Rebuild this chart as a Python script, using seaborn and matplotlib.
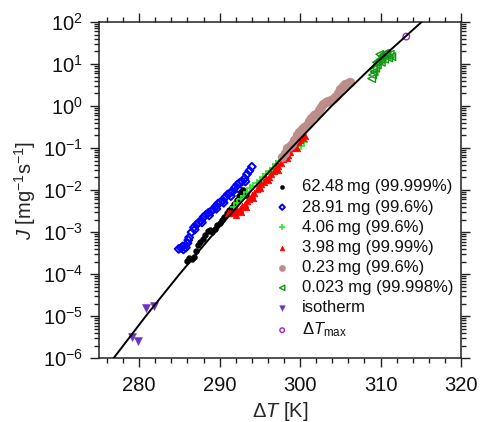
import matplotlib
matplotlib.use("Agg")

import matplotlib.pyplot as plt
import pandas as pd
import seaborn as sns
from matplotlib.ticker import LogLocator, MultipleLocator, NullFormatter


# fitted curve, read at a few points along the black line
fit_T = [276.8, 280.8, 285.0, 289.4, 294.0, 298.9, 303.9, 309.3, 315.1]
fit_J = [1e-6, 1e-5, 1e-4, 1e-3, 1e-2, 1e-1, 1.0, 10.0, 100.0]

# 62.48 mg (99.999%)
black_T = [285.9, 286.2, 286.5, 286.8, 287.0, 287.3, 287.6, 287.9, 288.2, 288.5,
           288.8, 289.1, 289.4, 289.7, 290.0, 290.3, 290.6, 290.9, 291.2, 291.5,
           291.8, 292.1, 292.4, 292.7, 292.9, 293.1, 293.3]
black_J = [2.1e-4, 2.4e-4, 2.3e-4, 2.6e-4, 3.5e-4, 5.0e-4, 6.0e-4, 7.0e-4, 8.5e-4, 1.05e-3,
           1.1e-3, 1.0e-3, 1.2e-3, 1.5e-3, 1.7e-3, 1.9e-3, 2.3e-3, 2.8e-3, 3.3e-3, 3.9e-3,
           4.6e-3, 5.8e-3, 7.2e-3, 9.0e-3, 1.0e-2, 8.5e-3, 7.5e-3]

# 28.91 mg (99.6%)
blue_T = [284.9, 285.2, 285.5, 285.8, 286.0, 286.2, 286.5, 286.8, 287.1, 287.4,
          287.7, 288.0, 288.3, 288.6, 288.9, 289.2, 289.5, 289.8, 290.1, 290.4,
          290.7, 291.0, 291.3, 291.6, 291.9, 292.2, 292.5, 292.8, 293.1, 293.4,
          293.7, 294.0,
          285.4, 286.1, 286.9, 287.8, 288.7, 289.6, 290.5, 291.4, 292.3, 293.2]
blue_J = [4.0e-4, 4.2e-4, 3.9e-4, 4.3e-4, 5.5e-4, 7.5e-4, 1.0e-3, 1.3e-3, 1.5e-3, 1.7e-3,
          1.9e-3, 2.3e-3, 2.6e-3, 2.9e-3, 3.1e-3, 3.5e-3, 4.1e-3, 4.8e-3, 5.2e-3, 5.6e-3,
          6.8e-3, 7.9e-3, 8.6e-3, 9.2e-3, 1.15e-2, 1.35e-2, 1.5e-2, 1.6e-2, 1.9e-2, 2.4e-2,
          2.9e-2, 3.6e-2,
          4.6e-4, 6.5e-4, 1.15e-3, 1.7e-3, 2.5e-3, 3.6e-3, 5.0e-3, 7.2e-3, 1.1e-2, 1.6e-2]

# 4.06 mg (99.6%)
lime_T = [291.8, 292.2, 292.6, 293.0, 293.4, 293.8, 294.2, 294.6, 295.0, 295.4,
          295.8, 296.2, 296.6, 297.0, 297.4, 297.8, 298.2, 298.6, 299.0, 299.4,
          299.8, 300.1, 300.3, 300.5]
lime_J = [4.0e-3, 4.9e-3, 6.0e-3, 7.4e-3, 9.1e-3, 1.1e-2, 1.26e-2, 1.48e-2, 1.66e-2, 2.0e-2,
          2.4e-2, 2.8e-2, 3.4e-2, 4.2e-2, 5.0e-2, 6.0e-2, 7.1e-2, 8.5e-2, 0.102, 0.12,
          0.126, 0.112, 0.28, 0.14]

# 3.98 mg (99.99%)
red_T = [291.0, 291.3, 291.6, 291.9, 292.2, 292.5, 292.8, 293.1, 293.4, 293.7,
         294.0, 294.3, 294.6, 294.9, 295.2, 295.5, 295.8, 296.1, 296.4, 296.7,
         297.0, 297.3, 297.6, 297.9, 298.2, 298.5, 298.8, 299.1, 299.4, 299.7,
         300.0, 300.3, 300.6,
         292.0, 292.6, 293.3, 294.2, 295.0, 296.0, 297.2, 298.4, 299.6]
red_J = [2.8e-3, 2.8e-3, 3.0e-3, 3.2e-3, 3.4e-3, 3.5e-3, 4.2e-3, 4.7e-3, 5.4e-3, 6.3e-3,
         7.6e-3, 8.7e-3, 1.07e-2, 1.26e-2, 1.38e-2, 1.58e-2, 1.9e-2, 2.1e-2, 2.4e-2, 2.8e-2,
         3.4e-2, 3.8e-2, 4.5e-2, 5.4e-2, 6.0e-2, 6.9e-2, 8.3e-2, 9.8e-2, 0.112, 0.138,
         0.158, 0.178, 0.19,
         2.6e-3, 3.0e-3, 4.0e-3, 6.5e-3, 1.1e-2, 1.7e-2, 3.0e-2, 5.8e-2, 0.10]

# 0.23 mg (99.6%)
brown_T = [297.8, 298.1, 298.4, 298.7, 299.0, 299.3, 299.6, 299.9, 300.2, 300.5,
           300.8, 301.1, 301.4, 301.7, 302.0, 302.3, 302.6, 302.9, 303.2, 303.5,
           303.8, 304.1, 304.4, 304.7, 305.0, 305.3, 305.6, 305.9, 306.2]
brown_J = [0.063, 0.076, 0.10, 0.112, 0.126, 0.158, 0.20, 0.24, 0.28, 0.32,
           0.355, 0.44, 0.52, 0.60, 0.66, 0.79, 0.95, 1.15, 1.26, 1.35,
           1.41, 1.48, 1.66, 2.0, 2.5, 2.95, 3.3, 3.6, 3.8]

# 0.023 mg (99.998%)
dkgreen_T = [308.9, 309.0, 309.2, 309.1, 309.4, 309.6, 309.5, 309.8, 310.0, 310.2,
             310.4, 310.6, 310.8, 311.0, 311.2, 311.4, 310.1, 310.5, 309.9]
dkgreen_J = [4.5, 5.5, 6.5, 7.5, 8.0, 9.5, 11.0, 12.0, 13.0, 15.0,
             17.0, 18.0, 16.0, 14.0, 17.0, 15.0, 11.0, 13.0, 17.0]

# isotherm measurements
iso_T = [279.06, 279.8, 280.8, 281.8]
iso_J = [3.3e-6, 2.6e-6, 1.6e-5, 1.8e-5]

# maximum supercooling
dtmax_T = [313.2]
dtmax_J = [45.0]


def series(T, J):
    return pd.DataFrame({"T": T, "J": J})


def main():
    sns.set_style("ticks")
    plt.rcParams["font.family"] = ["Liberation Sans", "DejaVu Sans"]
    plt.rcParams["mathtext.fontset"] = "custom"
    plt.rcParams["mathtext.rm"] = "Liberation Sans"
    plt.rcParams["mathtext.it"] = "Liberation Sans:italic"
    plt.rcParams["mathtext.default"] = "regular"

    fig = plt.figure(figsize=(4.82, 4.22), dpi=100)
    ax = fig.add_axes([0.2054, 0.1509, 0.7510, 0.7970])
    ax.set_yscale("log")

    sns.scatterplot(data=series(black_T, black_J), x="T", y="J", ax=ax,
                    marker="o", s=18, color="black", edgecolor="black", linewidth=0.3,
                    label="62.48\u2009mg (99.999%)", zorder=3)
    sns.scatterplot(data=series(blue_T, blue_J), x="T", y="J", ax=ax,
                    marker="D", s=16, color="#0000ff", facecolor="none",
                    edgecolor="#0000ff", linewidth=1.4,
                    label="28.91\u2009mg (99.6%)", zorder=2)
    sns.scatterplot(data=series(lime_T, lime_J), x="T", y="J", ax=ax,
                    marker="+", s=28, color="#22ee22", linewidth=1.2,
                    label="4.06\u2009mg (99.6%)", zorder=3)
    sns.scatterplot(data=series(red_T, red_J), x="T", y="J", ax=ax,
                    marker="^", s=22, color="#ff0000", edgecolor="#ff0000", linewidth=0.5,
                    label="3.98\u2009mg (99.99%)", zorder=4)
    sns.scatterplot(data=series(brown_T, brown_J), x="T", y="J", ax=ax,
                    marker="o", s=42, color="#bb8e8a", edgecolor="#bb8e8a", linewidth=0.3,
                    label="0.23\u2009mg (99.6%)", zorder=5)
    sns.scatterplot(data=series(dkgreen_T, dkgreen_J), x="T", y="J", ax=ax,
                    marker="<", s=30, color="#119911", facecolor="none",
                    edgecolor="#119911", linewidth=1.0,
                    label="0.023 mg (99.998%)", zorder=5)
    sns.scatterplot(data=series(iso_T, iso_J), x="T", y="J", ax=ax,
                    marker="v", s=34, color="#6a33c4", edgecolor="#6a33c4", linewidth=0.3,
                    label="isotherm", zorder=5)
    sns.scatterplot(data=series(dtmax_T, dtmax_J), x="T", y="J", ax=ax,
                    marker="o", s=22, color="#9b22d6", facecolor="none",
                    edgecolor="#9b22d6", linewidth=1.0,
                    label=r"$\Delta \mathit{T}_{\mathrm{max}}$", zorder=5)

    sns.lineplot(x=fit_T, y=fit_J, ax=ax, color="black", linewidth=1.4,
                 sort=False, estimator=None, zorder=6)

    ax.set_xlim(275, 320)
    ax.set_ylim(1e-6, 1e2)

    ax.xaxis.set_major_locator(MultipleLocator(10))
    ax.xaxis.set_minor_locator(MultipleLocator(2))
    ax.yaxis.set_major_locator(LogLocator(base=10, numticks=20))
    ax.yaxis.set_minor_locator(LogLocator(base=10, subs=range(2, 10), numticks=20))
    ax.yaxis.set_minor_formatter(NullFormatter())

    ax.tick_params(which="both", direction="out", top=True, right=True,
                   width=1.0, labelsize=14.5, color="#222222", labelcolor="#111111")
    ax.tick_params(which="major", length=6.5)
    ax.tick_params(which="minor", length=3.5)
    ax.tick_params(axis="x", which="major", pad=6)
    ax.tick_params(axis="y", which="major", pad=5)
    for spine in ax.spines.values():
        spine.set_linewidth(1.1)
        spine.set_color("#222222")

    ax.set_xlabel(r"$\Delta \mathit{T}$ [K]", fontsize=14.5, labelpad=4)
    ax.set_ylabel(r"$\mathit{J}$ [mg$^{-1}$s$^{-1}$]", fontsize=14.5)
    ax.yaxis.set_label_coords(-0.168, 0.5)

    leg = ax.legend(loc="upper left", bbox_to_anchor=(0.483, 0.532),
                    frameon=False, fontsize=12, handlelength=1.0,
                    handletextpad=0.7, labelspacing=0.31, borderpad=0,
                    borderaxespad=0, markerscale=0.7)
    for text in leg.get_texts():
        text.set_color("#111111")

    fig.savefig("out.png", dpi=100)
    plt.close(fig)


if __name__ == "__main__":
    main()
